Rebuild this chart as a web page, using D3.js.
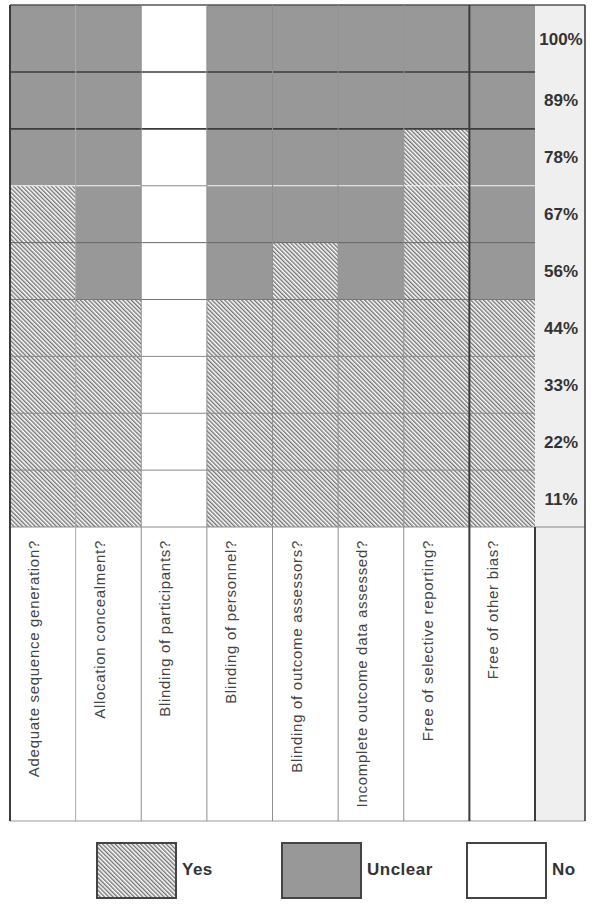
<!DOCTYPE html>
<html><head><meta charset="utf-8">
<script src="https://cdn.jsdelivr.net/npm/d3@7"></script>
<style>body{margin:0;background:#fff;} svg{display:block;}</style>
</head><body>
<svg id="c" width="600" height="918"></svg>
<script>
const categories = ["Adequate sequence generation?","Allocation concealment?","Blinding of participants?","Blinding of personnel?","Blinding of outcome assessors?","Incomplete outcome data assessed?","Free of selective reporting?","Free of other bias?"];
const yesCounts     = [6,4,0,4,5,4,7,4];
const unclearCounts = [3,5,0,5,4,5,2,5];
const noCounts      = [0,0,9,0,0,0,0,0];
const rowLabels = ["11%","22%","33%","44%","56%","67%","78%","89%","100%"];
const legendItems = ["Yes","Unclear","No"];

const svg = d3.select("#c");
const defs = svg.append("defs");
const pat = defs.append("pattern").attr("id","hatch").attr("patternUnits","userSpaceOnUse")
  .attr("width",3).attr("height",3).attr("patternTransform","rotate(-45)");
pat.append("rect").attr("width",3).attr("height",3).attr("fill","#fff");
pat.append("line").attr("x1",0.75).attr("y1",-1).attr("x2",0.75).attr("y2",4).attr("stroke","#5a5a5a").attr("stroke-width",1.2);

const fills = {Yes:"url(#hatch)", Unclear:"#989898", No:"#ffffff"};

const x = d3.scaleBand().domain(categories).range([10,535]).padding(0);
const y = d3.scaleLinear().domain([0,8,9]).range([527,72,5]);
const pctX0 = 535, pctX1 = 585, labelBottom = 821;

// percentage column background
svg.append("rect").attr("x",pctX0).attr("y",y(9)).attr("width",pctX1-pctX0).attr("height",labelBottom-y(9)).attr("fill","#efefef");

// stacked cells
const data = categories.map((c,i)=>({c, segs:[["Yes",yesCounts[i]],["Unclear",unclearCounts[i]],["No",noCounts[i]]]}));
data.forEach(d=>{
  let acc=0;
  d.segs.forEach(([k,v])=>{
    if(v>0){
      svg.append("rect").attr("x",x(d.c)).attr("width",x.bandwidth())
        .attr("y",y(acc+v)).attr("height",y(acc)-y(acc+v)).attr("fill",fills[k]);
    }
    acc+=v;
  });
});

// horizontal grid lines
const hStyles = {1:"#8a8a8a",2:"#8a8a8a",3:"#8a8a8a",4:"#777",5:"#666",6:"#8a8a8a"};
for(let k=1;k<=6;k++){
  categories.forEach((c,i)=>{
    let col = hStyles[k];
    if(k===6) col = noCounts[i]>0 ? "#8a8a8a" : "#f4f4f4";
    svg.append("line").attr("x1",x(c)).attr("x2",x(c)+x.bandwidth()).attr("y1",y(k)).attr("y2",y(k))
      .attr("stroke", col).attr("stroke-width", 1);
  });
}
[7,8].forEach(k=>{
  svg.append("line").attr("x1",10).attr("x2",pctX0).attr("y1",y(k)).attr("y2",y(k)).attr("stroke","#3c3c3c").attr("stroke-width",1.6);
});
svg.append("line").attr("x1",10).attr("x2",pctX1).attr("y1",y(0)).attr("y2",y(0)).attr("stroke","#8a8a8a").attr("stroke-width",1);
svg.append("line").attr("x1",10).attr("x2",pctX1).attr("y1",y(9)).attr("y2",y(9)).attr("stroke","#555").attr("stroke-width",1.6);
svg.append("line").attr("x1",10).attr("x2",pctX1).attr("y1",labelBottom).attr("y2",labelBottom).attr("stroke","#999").attr("stroke-width",1.2);

// vertical lines
categories.forEach((c,i)=>{
  if(i===0) return;
  const xx = x(c);
  const dark = i===7;
  svg.append("line").attr("x1",xx).attr("x2",xx).attr("y1",y(9)).attr("y2",labelBottom)
    .attr("stroke", dark?"#3c3c3c":(i===1?"#a8a8a8":"#8f8f8f")).attr("stroke-width", dark?2:1);
});
svg.append("line").attr("x1",10).attr("x2",10).attr("y1",y(9)).attr("y2",labelBottom).attr("stroke","#3c3c3c").attr("stroke-width",2);
svg.append("line").attr("x1",pctX0).attr("x2",pctX0).attr("y1",y(0)).attr("y2",labelBottom).attr("stroke","#3c3c3c").attr("stroke-width",2);
svg.append("line").attr("x1",pctX1).attr("x2",pctX1).attr("y1",y(9)).attr("y2",labelBottom).attr("stroke","#3c3c3c").attr("stroke-width",1.6);

// percent labels
svg.selectAll("text.pct").data(rowLabels).join("text").attr("class","pct")
  .attr("x",(pctX0+pctX1)/2+1).attr("y",(d,i)=>(y(i)+y(i+1))/2+6)
  .attr("text-anchor","middle").attr("font-family","Liberation Sans, Arial, sans-serif")
  .attr("font-weight","bold").attr("font-size",17).attr("fill","#333").text(d=>d);

// category labels (rotated)
svg.selectAll("text.cat").data(categories).join("text").attr("class","cat")
  .attr("transform",d=>`translate(${x(d)+29},540) rotate(-90)`)
  .attr("text-anchor","end").attr("font-family","Liberation Sans, Arial, sans-serif")
  .attr("font-size",15).attr("fill","#444").attr("letter-spacing",0.7).text(d=>d);

// legend
const legX = [97,282,467];
legendItems.forEach((k,i)=>{
  svg.append("rect").attr("x",legX[i]).attr("y",843).attr("width",79).attr("height",55)
    .attr("fill",fills[k]).attr("stroke","#444").attr("stroke-width",2);
  svg.append("text").attr("x",legX[i]+85).attr("y",875).attr("font-family","Liberation Sans, Arial, sans-serif")
    .attr("font-weight","bold").attr("font-size",17).attr("letter-spacing",0.5).attr("fill","#333").text(k);
});
</script>
</body></html>
